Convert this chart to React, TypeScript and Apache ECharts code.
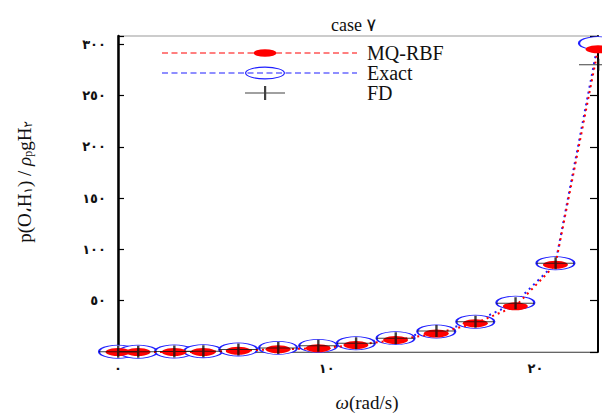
import React, { useEffect, useRef } from 'react';
import * as echarts from 'echarts';

// ---- data ----
const omega = [0, 0.96, 2.69, 4.08, 5.76, 7.67, 9.59, 11.4, 13.3, 15.25, 17.12, 19.04, 20.96, 23.0];
const mqRbf = [0, 0, 0, 0, 1.3, 2.6, 3.6, 6.8, 11.7, 18, 28, 44.5, 85, 295];
const exact = [0.3, 0.3, 0.5, 0.8, 2.5, 4, 6, 8.5, 13.5, 20, 29.5, 48, 86.5, 301];
const fd = [0.3, 0.3, 0.5, 0.8, 2.5, 4, 6, 8.5, 13.5, 20.5, 29.5, 47.5, 86.5, 280];
const seriesNames = ['MQ-RBF', 'Exact', 'FD'];
const xTickValues = [0, 10, 20];
const xTickLabels = ['٠', '١٠', '٢٠'];
const yTickValues = [0, 50, 100, 150, 200, 250, 300];
const yTickLabels = ['٠', '٥٠', '١٠٠', '١٥٠', '٢٠٠', '٢٥٠', '٣٠٠'];
const titleText = 'case ٧';
const xName = '{i|ω}(rad/s)';
const yName = 'p(O،H{s|١}) / {i|ρ}{s|p}gH{s|٢}';

const SERIF = "'Liberation Serif', 'DejaVu Serif', 'DejaVu Sans', serif";
const RED = '#ff0000';
const BLUE = '#1f1fff';

// ---- legend icon shapes ----
const LW = 200;
const LH = 14;
const bounds = `M0,0 L0.01,0 L0,0.01 Z M${LW},${LH} L${LW - 0.01},${LH} L${LW},${LH - 0.01} Z `;
function dashPath(x0: number, x1: number, y: number, t: number, dash: number, gap: number) {
  let s = '';
  for (let x = x0; x < x1; x += dash + gap) {
    const w = Math.min(dash, x1 - x);
    s += `M${x},${y} h${w} v${t} h${-w} Z `;
  }
  return s;
}
function ellipse(cx: number, cy: number, rx: number, ry: number, cw: boolean) {
  const sw = cw ? 1 : 0;
  return `M${cx - rx},${cy} A${rx},${ry} 0 1 ${sw} ${cx + rx},${cy} A${rx},${ry} 0 1 ${sw} ${cx - rx},${cy} Z `;
}
const mqIcon = 'path://' + bounds + dashPath(0, 195, 6.5, 1, 6, 3.5) + ellipse(103, 7, 11.5, 3.8, true);
const exactIcon =
  'path://' + bounds + dashPath(0, 195, 6.5, 1, 6, 3.5) + ellipse(103, 7, 20, 6.5, true) + ellipse(103, 7, 18.8, 5.3, false);
const fdIcon = 'path://' + bounds + 'M83,6.5 h40 v1 h-40 Z M102,0 h2.2 v14 h-2.2 Z';
const fdSymbol = 'path://M0,5.5 h38 v1 h-38 Z M18,0 h2.4 v12 h-2.4 Z';

function tickLabel(values: number[], labels: string[]) {
  return (v: number) => {
    const i = values.findIndex((t) => Math.abs(t - v) < 1e-6);
    return i >= 0 ? labels[i] : '';
  };
}

export default function App() {
  const ref = useRef<HTMLDivElement>(null);
  useEffect(() => {
    document.body.style.margin = '0';
    if (!ref.current) return;
    const chart = echarts.init(ref.current, undefined, { renderer: 'svg' });
    const yAxisCommon = {
      type: 'value' as const,
      min: 0,
      max: 308,
      interval: 50,
      splitLine: { show: false },
    };
    chart.setOption({
      animation: false,
      backgroundColor: '#fff',
      title: {
        text: titleText,
        left: 331,
        top: 16,
        padding: 0,
        textStyle: { fontFamily: SERIF, fontSize: 18, fontWeight: 'normal', color: '#111' },
      },
      grid: {
        left: 118,
        right: 4,
        top: 36,
        bottom: 63,
        show: true,
        borderColor: '#999',
        borderWidth: 1,
        backgroundColor: 'transparent',
        outerBoundsMode: 'none',
        containLabel: false,
      },
      legend: {
        orient: 'vertical',
        left: 162,
        top: 43,
        padding: 0,
        itemWidth: LW,
        itemHeight: LH,
        itemGap: 0,
        symbolKeepAspect: false,
        selectedMode: false,
        textStyle: { fontFamily: SERIF, fontSize: 20, color: '#111' },
        data: [
          { name: seriesNames[0], icon: mqIcon, itemStyle: { color: RED, borderWidth: 0 } },
          { name: seriesNames[1], icon: exactIcon, itemStyle: { color: BLUE, borderWidth: 0 } },
          { name: seriesNames[2], icon: fdIcon, itemStyle: { color: '#111', borderWidth: 0 } },
        ],
      },
      xAxis: {
        type: 'value',
        min: 0,
        max: 23,
        interval: 10,
        name: xName,
        nameLocation: 'middle',
        nameGap: 41,
        nameTextStyle: {
          fontFamily: SERIF,
          fontSize: 19,
          color: '#111',
          padding: [0, 0, 0, 18],
          rich: { i: { fontFamily: SERIF, fontStyle: 'italic', fontSize: 19, color: '#111' } },
        },
        axisLine: { lineStyle: { color: '#666', width: 1 } },
        axisTick: { show: false },
        splitLine: { show: false },
        axisLabel: {
          formatter: tickLabel(xTickValues, xTickLabels),
          margin: 10,
          fontFamily: SERIF,
          fontSize: 13,
          fontWeight: 'bold',
          color: '#111',
        },
      },
      yAxis: [
        {
          ...yAxisCommon,
          position: 'left',
          axisLine: { show: true, lineStyle: { color: '#000', width: 2.5 } },
          axisTick: { show: true, inside: true, length: 6, lineStyle: { color: '#000', width: 1.2 } },
          axisLabel: {
            formatter: tickLabel(yTickValues, yTickLabels),
            margin: 12,
            fontFamily: SERIF,
            fontSize: 13,
            fontWeight: 'bold',
            color: '#111',
          },
        },
        {
          ...yAxisCommon,
          position: 'right',
          axisLine: { show: true, lineStyle: { color: '#000', width: 2 } },
          axisTick: { show: true, inside: true, length: 8, lineStyle: { color: '#000', width: 1.2 } },
          axisLabel: { show: false },
        },
      ],
      graphic: [
        {
          type: 'text',
          x: 24,
          y: 182,
          rotation: Math.PI / 2,
          style: {
            text: yName,
            fontFamily: SERIF,
            fontSize: 19,
            fill: '#111',
            align: 'center',
            verticalAlign: 'middle',
            rich: {
              s: { fontFamily: SERIF, fontSize: 12, verticalAlign: 'bottom', fill: '#111' },
              i: { fontFamily: SERIF, fontSize: 19, fontStyle: 'italic', fill: '#111' },
            },
          },
        },
      ],
      series: [
        {
          name: seriesNames[1],
          type: 'line',
          z: 2,
          data: omega.map((x, i) => [x, exact[i]]),
          symbol: 'circle',
          symbolSize: [38, 13],
          itemStyle: { color: '#fff', borderColor: BLUE, borderWidth: 1.3 },
          lineStyle: { color: BLUE, width: 2, type: [2, 4], dashOffset: 3 },
        },
        {
          name: seriesNames[0],
          type: 'line',
          z: 3,
          data: omega.map((x, i) => [x, mqRbf[i]]),
          symbol: 'circle',
          symbolSize: [25, 8],
          itemStyle: { color: RED, borderWidth: 0 },
          lineStyle: { color: RED, width: 2, type: [2, 4] },
        },
        {
          name: seriesNames[2],
          type: 'scatter',
          z: 5,
          data: omega.map((x, i) => [x, fd[i]]),
          symbol: fdSymbol,
          symbolSize: [38, 12],
          itemStyle: { color: '#111' },
        },
      ],
    });
    return () => chart.dispose();
  }, []);
  return <div ref={ref} style={{ width: 602, height: 415 }} />;
}
